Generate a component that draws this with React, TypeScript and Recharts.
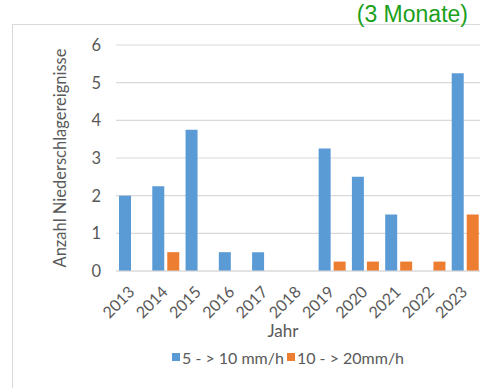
import React from "react";
import { BarChart, Bar, XAxis, YAxis, CartesianGrid, Legend, Label } from "recharts";

const years = ["2013", "2014", "2015", "2016", "2017", "2018", "2019", "2020", "2021", "2022", "2023"];
const moderate = [2, 2.25, 3.75, 0.5, 0.5, 0, 3.25, 2.5, 1.5, 0, 5.25];
const heavy = [0, 0.5, 0, 0, 0, 0, 0.25, 0.25, 0.25, 0.25, 1.5];
const yTicks = [0, 1, 2, 3, 4, 5, 6];

const seriesNames = ["5 - > 10 mm/h", "10 - > 20mm/h"];
const seriesColors = ["#5B9BD5", "#ED7D31"];

const data = years.map((year, i) => ({ year, moderate: moderate[i], heavy: heavy[i] }));

const textColor = "#595959";
const font = "Lato, 'Open Sans', sans-serif";

// rotated year labels, right end sits near the category centre
const YearTick = (props: any) => {
  const { x, y, payload } = props;
  const px = x + 3;
  const py = y + 22;
  return (
    <text
      x={px}
      y={py}
      transform={`rotate(-45 ${px} ${py})`}
      textAnchor="end"
      fill={textColor}
      fontSize={16}
      fontFamily={font}
    >
      {payload.value}
    </text>
  );
};

const LegendBox = () => (
  <div style={{ display: "flex", alignItems: "center", fontFamily: font, fontSize: 16, color: textColor, whiteSpace: "nowrap", height: 24 }}>
    {seriesNames.map((name, i) => (
      <span key={name} style={{ display: "flex", alignItems: "center", marginRight: 3 }}>
        <span style={{ width: 8, height: 8, background: seriesColors[i], marginRight: 2, display: "inline-block" }} />
        {name}
      </span>
    ))}
  </div>
);

export default function App() {
  return (
    <div style={{ position: "absolute", left: 0, top: 0, width: 480, height: 388, overflow: "hidden", background: "#fff" }}>
      {/* chart frame, cut at the right and bottom */}
      <div style={{ position: "absolute", left: 12, top: 24, width: 520, height: 420, border: "1px solid #D9D9D9" }} />
      <div style={{ position: "absolute", left: 0, top: 0 }}>
        <BarChart
          width={484}
          height={388}
          data={data}
          margin={{ top: 45, right: 2, bottom: 19, left: 0 }}
          barCategoryGap={3}
          barGap={3}
        >
          <CartesianGrid vertical={false} stroke="#D9D9D9" strokeWidth={1.2} />
          <XAxis
            dataKey="year"
            height={74}
            tickLine={false}
            tickSize={0}
            tickMargin={0}
            axisLine={{ stroke: "#D9D9D9", strokeWidth: 1.2 }}
            tick={<YearTick />}
            interval={0}
          >
            <Label
              content={(p: any) => {
                const vb = p.viewBox;
                return (
                  <text x={vb.x + vb.width / 2 - 16} y={337} textAnchor="middle" fill={textColor} fontSize={17} fontFamily={font}>
                    Jahr
                  </text>
                );
              }}
            />
          </XAxis>
          <YAxis
            width={116}
            domain={[0, 6]}
            ticks={yTicks}
            axisLine={false}
            tickLine={false}
            tickSize={0}
            tickMargin={15}
            tick={{ fill: textColor, fontSize: 16.5, fontFamily: font }}
          >
            <Label
              content={(p: any) => {
                const vb = p.viewBox;
                const cy = vb.y + vb.height / 2;
                return (
                  <text
                    x={66}
                    y={cy}
                    transform={`rotate(-90 66 ${cy})`}
                    textAnchor="middle"
                    fill={textColor}
                    fontSize={16.5}
                    fontFamily={font}
                  >
                    Anzahl Niederschlagereignisse
                  </text>
                );
              }}
            />
          </YAxis>
          <Legend
            verticalAlign="bottom"
            content={<LegendBox />}
            wrapperStyle={{ left: 172, bottom: 19, width: 260, height: 24 }}
          />
          <Bar dataKey="moderate" name={seriesNames[0]} fill={seriesColors[0]} isAnimationActive={false} />
          <Bar dataKey="heavy" name={seriesNames[1]} fill={seriesColors[1]} isAnimationActive={false} />
        </BarChart>
      </div>
      <svg width={480} height={40} style={{ position: "absolute", left: 0, top: 0, zIndex: 2 }}>
        <text x={468} y={22} textAnchor="end" fontFamily="'Liberation Sans', Arial, sans-serif" fontSize={23} fill="#1BA01B">
          (3 Monate)
        </text>
      </svg>
    </div>
  );
}
